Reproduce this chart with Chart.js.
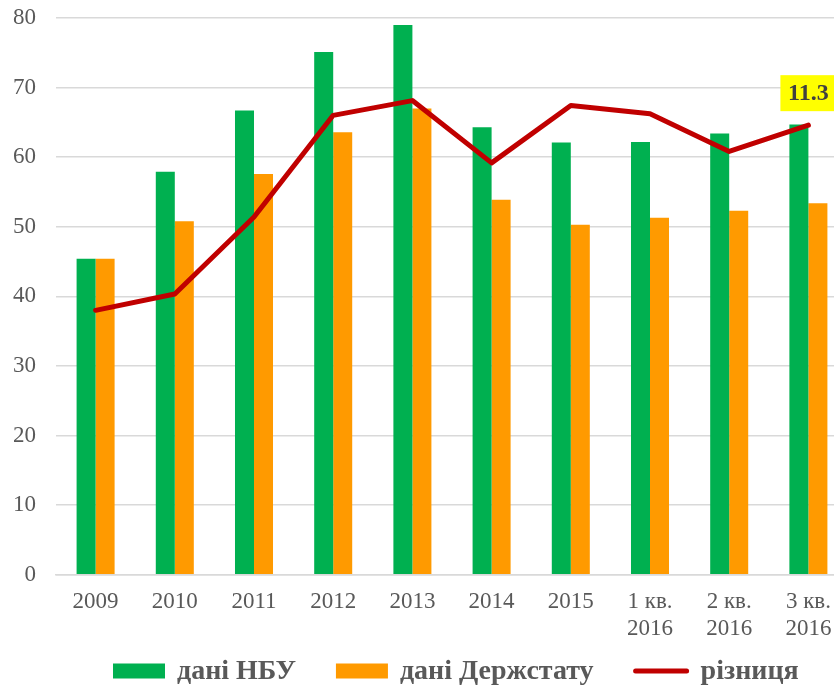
<!DOCTYPE html>
<html><head><meta charset="utf-8">
<script src="https://cdn.jsdelivr.net/npm/chart.js@4.4.0/dist/chart.umd.min.js"></script>
<style>html,body{margin:0;padding:0;overflow:hidden;background:#fff;width:834px;height:688px}</style>
</head><body>
<canvas id="c" width="900" height="688" style="display:block"></canvas>
<script>
const categories = ['2009','2010','2011','2012','2013','2014','2015',['1 кв.','2016'],['2 кв.','2016'],['3 кв.','2016']];
const nbuValues = [45.4,57.9,66.7,75.1,79.0,64.3,62.1,62.2,63.4,64.7];
const derzhstatValues = [45.4,50.8,57.6,63.6,67.0,53.9,50.3,51.3,52.3,53.4];
const differenceValues = [0.0,1.0,5.7,11.9,12.8,9.0,12.5,12.0,9.7,11.3];
const seriesLabels = ['дані НБУ','дані Держстату','різниця'];
const yMin = 0, yMax = 80, yStep = 10;

const FONT = '"Liberation Serif", "Times New Roman", serif';
const GRAY = '#595959';

const legendPlugin = {
  id: 'customLegend',
  afterDraw(chart) {
    const ctx = chart.ctx;
    ctx.save();
    ctx.font = 'bold 28px ' + FONT;
    ctx.textBaseline = 'middle';
    let x = 113; const yc = 671;
    chart.data.datasets.forEach(ds => {
      if (ds.type === 'line') {
        ctx.strokeStyle = ds.borderColor; ctx.lineWidth = 5; ctx.lineCap = 'round';
        ctx.beginPath(); ctx.moveTo(x + 2, yc); ctx.lineTo(x + 53, yc); ctx.stroke();
        x += 55;
      } else {
        ctx.fillStyle = ds.backgroundColor; ctx.fillRect(x, yc - 7.5, 52, 15);
        x += 52;
      }
      x += 12;
      ctx.fillStyle = GRAY; ctx.textAlign = 'left';
      ctx.fillText(ds.label, x, yc + 1);
      x += ctx.measureText(ds.label).width + 40;
    });
    ctx.restore();
  }
};

const lastLabelPlugin = {
  id: 'lastLabel',
  afterDatasetsDraw(chart) {
    const idx = chart.data.datasets.findIndex(d => d.type === 'line');
    const meta = chart.getDatasetMeta(idx);
    const n = meta.data.length - 1;
    const pt = meta.data[n];
    const txt = chart.data.datasets[idx].data[n].toFixed(1);
    const ctx = chart.ctx;
    ctx.save();
    ctx.font = 'bold 24px ' + FONT;
    const w = 56, h = 36;
    const bx = pt.x - 28, by = pt.y - 14 - h;
    ctx.fillStyle = '#FFFF00';
    ctx.fillRect(bx, by, w, h);
    ctx.fillStyle = '#404040';
    ctx.textAlign = 'center'; ctx.textBaseline = 'middle';
    ctx.fillText(txt, pt.x, by + h / 2 + 1);
    ctx.restore();
  }
};

function build() {
  new Chart(document.getElementById('c'), {
    data: {
      labels: categories,
      datasets: [
        { type: 'bar', label: seriesLabels[0], data: nbuValues, backgroundColor: '#00B050', yAxisID: 'y', order: 1,
          categoryPercentage: 0.48, barPercentage: 1.0 },
        { type: 'bar', label: seriesLabels[1], data: derzhstatValues, backgroundColor: '#FF9A00', yAxisID: 'y', order: 1,
          categoryPercentage: 0.48, barPercentage: 1.0 },
        { type: 'line', label: seriesLabels[2], data: differenceValues, borderColor: '#C00000', backgroundColor: '#C00000',
          borderWidth: 5, pointRadius: 0, tension: 0, yAxisID: 'y2', order: 0, borderJoinStyle: 'round', borderCapStyle: 'round' }
      ]
    },
    options: {
      responsive: false,
      animation: false,
      layout: { padding: { left: 12, top: 18, right: 52, bottom: 32 } },
      plugins: { legend: { display: false }, tooltip: { enabled: false } },
      scales: {
        x: {
          grid: { display: false, drawTicks: false },
          border: { display: true, color: '#D9D9D9', width: 1.5 },
          ticks: { color: GRAY, font: { family: FONT, size: 23 }, padding: 13, autoSkip: false, maxRotation: 0 }
        },
        y: {
          min: yMin, max: yMax,
          grid: { color: '#D9D9D9', lineWidth: 1.5, drawTicks: false },
          border: { display: false },
          ticks: { stepSize: yStep, color: GRAY, font: { family: FONT, size: 23 }, padding: 20 },
          afterFit: s => { s.width = 44; s.paddingTop = 0; s.paddingBottom = 0; }
        },
        y2: { display: false, min: -16.14, max: 17.84 }
      }
    },
    plugins: [legendPlugin, lastLabelPlugin]
  });
}
Promise.all([
  document.fonts.load('23px "Liberation Serif"'),
  document.fonts.load('bold 28px "Liberation Serif"')
]).then(build, build);
</script>
</body></html>
